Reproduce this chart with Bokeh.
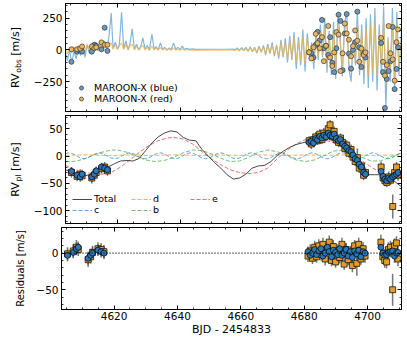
import math
from bokeh.plotting import figure
from bokeh.layouts import column, row
from bokeh.models import (Range1d, LinearAxis, SingleIntervalTicker, Label, Legend,
                          LegendItem, CustomJSTickFormatter, Span)
from bokeh.embed import file_html
from bokeh.resources import INLINE

# ---------------- data ----------------
X_MIN, X_MAX = 4603.4, 4710.7

t_left = [4605.3, 4607.1, 4608.1, 4608.7, 4611.8, 4612.6, 4613.2, 4614.9, 4615.9, 4616.8]
t_right1 = [4681.2, 4681.9, 4682.6, 4683.3, 4683.9, 4684.6, 4685.3, 4685.9, 4686.6, 4687.3,
            4687.9, 4688.6, 4689.2, 4689.9, 4690.6, 4691.2, 4691.9, 4692.6, 4693.2, 4693.9,
            4694.6, 4695.2, 4695.9, 4696.6, 4697.2, 4697.9, 4698.6, 4699.2]
t_right2 = [4704.2, 4704.8, 4705.4, 4706.0, 4706.6, 4707.2, 4707.9, 4708.5, 4709.1, 4709.6]

# observed RVs (top panel)
rv_blue_obs = ([-94, -14, -6, -14, -14, 40, 32, 5, 175, -8] +
               [-19, -25, -60, 40, 142, 75, 236, 13, 32, -40, 100, -102, -175, 13, 277, 228,
                -160, 129, 282, -30, -148, 0, 60, 301, 20, -135, -32, -60] +
               [54, -175, -457, -229, -167, -89, 180, -309, -150, 20])
rv_red_obs = ([5, 5, 10, 27, 27, 13, 20, 59, 40, 40] +
              [-19, -67, 20, 126, 53, 13, 100, -89, 32, 188, -60, -127, -20, 140, 120, -167,
               -27, 207, 129, 80, -50, 30, 153, 72, -94, 10, -40, -20] +
              [94, -94, -202, -120, 188, -27, -75, -242, 60, 161])

# planetary RVs (middle panel)
rvpl_blue = ([-28, -35, -38, -33, -38, -33, -27, -20, -22, -25] +
             [25, 27, 24, 32, 30, 36, 33, 38, 35, 42, 38, 36, 40, 32, 28, 30, 22, 18, 15, 10,
              8, 2, -5, -8, -15, -20, -30, -33] +
             [-28, -37, -42, -45, -40, -42, -38, -35, -33, -30])
rvpl_red = ([-30, -37, -34, -36, -40, -35, -30, -23, -20, -27] +
            [28, 22, 30, 35, 28, 40, 30, 42, 38, 50, 57, 35, 45, 30, 25, 33, 25, 14, 20, 5,
             12, -2, -10, -3, -22, -18, -35, -30] +
            [-20, -40, -45, -48, -38, -44, -92, -30, -20, -35])

# residuals (bottom panel)
res_blue = ([-3, 1, 6, 8, -7, -3, 0, 4, 2, 0] +
            [2, -3, 0, 5, -2, 3, 6, -4, 0, 8, 2, -5, 4, 1, -2, 6, -3, 0, 5, -4, 2, -6, 3, -1,
             4, -5, 2, 0] +
            [8, 0, -3, -2, 1, 2, 3, -4, 0, 1])
res_red = ([-1, 3, 8, 5, -9, -5, 1, 6, 5, 2] +
           [-4, 3, -7, 8, -5, 10, -2, 12, -8, 6, 15, -10, 9, -12, 3, -6, 12, -15, 5, -9, 0,
            -17, 10, -14, 12, -8, 6, -4] +
           [15, -5, -10, -12, 5, 8, -50, 10, 14, -8])

err_blue = ([8, 8, 9, 8, 9, 9, 8, 8, 8, 8] +
            [7, 8, 7, 8, 7, 8, 7, 8, 8, 7, 8, 7, 8, 7, 8, 7, 8, 7, 8, 7, 8, 8, 7, 8, 8, 7, 8, 8] +
            [9, 8, 9, 8, 9, 8, 9, 9, 8, 9])
err_red = ([9, 9, 10, 9, 10, 9, 9, 9, 9, 9] +
           [8, 9, 8, 9, 8, 9, 8, 9, 9, 8, 9, 8, 9, 8, 9, 8, 9, 8, 9, 8, 9, 9, 8, 17, 9, 8, 9, 9] +
           [10, 9, 10, 9, 10, 9, 22, 10, 9, 10])

# high-cadence RV models (top panel)
model_t = ([4603.4, 4604.0, 4604.7, 4605.4, 4606.1, 4606.8, 4607.5, 4608.2, 4608.9, 4609.6,
            4610.3, 4611.0, 4611.7, 4612.4, 4613.1, 4613.8, 4614.5, 4615.2, 4615.9, 4616.6,
            4617.3] +
           [4618.0, 4618.6, 4619.3, 4620.0, 4620.6, 4621.3, 4622.0, 4622.7, 4623.4, 4624.0,
            4624.7, 4625.4, 4626.1, 4626.8, 4627.5, 4628.1, 4628.8, 4629.5, 4630.2, 4631.0,
            4631.7, 4632.4, 4633.0, 4633.7, 4634.4, 4635.1, 4635.8, 4636.5, 4637.2, 4637.9,
            4638.6, 4639.3, 4640.0, 4640.7, 4641.4, 4642.1, 4643.0, 4644.0, 4645.0, 4650.0,
            4655.0, 4657.0] +
           [4657.5, 4658.2, 4658.9, 4659.6, 4660.3, 4661.0, 4661.7, 4662.4, 4663.1, 4663.8,
            4664.5, 4665.2, 4665.9, 4666.6, 4667.3, 4668.0, 4668.7, 4669.4, 4670.1, 4670.8,
            4671.5, 4672.2, 4672.9, 4673.6, 4674.3, 4675.0, 4675.7, 4676.4, 4677.1, 4677.8,
            4678.5, 4679.2, 4679.9, 4680.6, 4681.3, 4682.0, 4682.7, 4683.4, 4684.1, 4684.8,
            4685.5, 4686.2, 4686.9, 4687.6, 4688.3, 4689.0, 4689.7, 4690.4, 4691.1, 4691.8,
            4692.5, 4693.2, 4693.9, 4694.6, 4695.3, 4696.0, 4696.6, 4697.3, 4698.0, 4698.7,
            4699.4, 4700.1, 4700.8, 4701.5, 4702.2, 4702.9, 4703.6, 4704.3, 4705.0, 4705.7,
            4706.4, 4707.1, 4707.8, 4708.5, 4709.2, 4709.9, 4710.7])
model_blue = ([-20, -85, 0, -105, -10, -70, 20, -45, 35, -60, 40, -25, 45, -15, 60, -10, 40, 0,
               70, -5, 110] +
              [290, 10, 60, 5, 40, 296, 10, 70, 0, 50, 165, 5, 45, 0, 30, 95, 5, 35, 0, 125,
               5, 25, 0, 55, 5, 20, 0, 15, 2, 55, 5, 20, 3, 30, 3, 12, 4, 8, 4, 5, 5, 6] +
              [0, 15, -5, 18, -2, 20, -10, 25, -15, 20, -25, 30, -20, 35, -40, 45, -30, 60, -50,
               40, -70, 80, -60, 90, -100, 110, -80, 140, -150, 100, -120, 160, -170, 130, -60,
               60, -150, 150, -80, 200, -60, 250, -180, 150, -200, 220, -230, 290, 100, -210,
               200, 300, -150, -250, 80, -120, 310, -200, 200, -270, 250, -300, 280, -250, 330,
               -320, 200, -200, 340, -460, 100, -250, 330, -330, 300, -200, 150])
model_red = ([10, -30, 20, -25, 25, -10, 35, -5, 40, -15, 45, 0, 50, 5, 55, 5, 45, 10, 60, 10,
              50] +
             [55, 5, 40, 5, 30, 55, 5, 40, 0, 30, 45, 0, 30, -2, 20, 35, 0, 20, -3, 30, 0, 15,
              -3, 20, -2, 10, -3, 8, -2, 15, -2, 6, -3, 8, -3, 3, -3, 0, -3, -3, -3, -3] +
             [-5, 5, -10, 8, -8, 10, -12, 15, -15, 12, -20, 20, -18, 25, -28, 30, -25, 40, -35,
              30, -50, 55, -45, 60, -70, 75, -60, 95, -100, 70, -85, 110, -115, 90, -40, 40,
              -100, 110, -55, 140, -45, 170, -120, 110, -135, 160, -150, 200, 70, -140, 140,
              210, -100, -170, 60, -80, 210, -130, 140, -180, 170, -200, 190, -170, 220, -210,
              140, -130, 230, -280, 70, -170, 220, -220, 200, -130, 100])

# planet model curves (middle panel)
tot_t = [4603.4, 4605, 4607, 4609, 4611, 4613, 4615, 4617, 4619, 4621, 4623, 4625, 4627, 4629,
         4631, 4633, 4635, 4637, 4639, 4641, 4643, 4645, 4647, 4649, 4651, 4653, 4655, 4657,
         4659, 4661, 4663, 4665, 4667, 4669, 4671, 4673, 4675, 4677, 4679, 4681, 4683, 4685,
         4687, 4689, 4691, 4693, 4695, 4697, 4698.5, 4700, 4702, 4704, 4706, 4708, 4710.7]
tot_v = [-25, -28, -35, -37, -34, -28, -22, -20, -14, -9, -8, -9, -4, 10, 24, 35, 42, 46, 44,
         34, 29, 28, 12, 0, -12, -22, -34, -42, -40, -33, -22, -18, -17, -10, 1, 9, 16, 21, 24,
         27, 31, 35, 38, 36, 28, 16, 3, -14, -31, -34, -34, -34, -38, -44, -56]

e_t = [4603.4, 4606, 4609, 4612, 4615, 4618, 4621, 4624, 4627, 4630, 4633, 4636, 4638, 4641,
       4644, 4647, 4650, 4653, 4656, 4659, 4662, 4665, 4668, 4671, 4674, 4677, 4680, 4683,
       4686, 4689, 4692, 4695, 4698, 4701, 4704, 4707, 4710.7]
e_v = [-17, -24, -29, -32, -33, -30, -20, -7, 7, 19, 28, 33, 34, 31, 22, 8, -5, -16, -25, -30,
       -32, -30, -22, -5, 10, 22, 30, 32, 30, 24, 15, 4, -8, -20, -30, -37, -42]

b_t = [4603.4, 4606, 4609, 4612, 4615, 4618, 4620, 4623, 4626, 4629, 4632, 4635, 4638, 4641,
       4644, 4647, 4650, 4653, 4656, 4659, 4662, 4665, 4668, 4671, 4674, 4677, 4680, 4683,
       4686, 4689, 4692, 4695, 4698, 4701, 4704, 4707, 4710.7]
b_v = [-10, -10, -6, 1, 7, 11, 11, 7, 0, -7, -10, -8, -2, 6, 11, 10, 4, -4, -10, -9, -2, 7,
       11, 8, 1, -7, -10, -7, 1, 9, 11, 6, -2, -9, -9, -2, 6]

c_t = [4603.4, 4604.5, 4605.7, 4606.9, 4608.1, 4609.4, 4610.6, 4611.8, 4613.0, 4614.2, 4615.4,
       4616.6, 4617.8, 4619.1, 4620.3, 4621.5, 4622.7, 4623.9, 4625.1, 4626.3, 4627.5, 4628.8,
       4630.0, 4631.2, 4632.4, 4633.6, 4634.8, 4636.0, 4637.2, 4638.5, 4639.7, 4640.9, 4642.1,
       4643.3, 4644.5, 4645.7, 4646.9, 4648.2, 4649.4, 4650.6, 4651.8, 4653.0, 4654.2, 4655.4,
       4656.6, 4657.9, 4659.1, 4660.3, 4661.5, 4662.7, 4663.9, 4665.1, 4666.3, 4667.6, 4668.8,
       4670.0, 4671.2, 4672.4, 4673.6, 4674.8, 4676.0, 4677.3, 4678.5, 4679.7, 4680.9, 4682.1,
       4683.3, 4684.5, 4685.7, 4687.0, 4688.2, 4689.4, 4690.6, 4691.8, 4693.0, 4694.2, 4695.4,
       4696.7, 4697.9, 4699.1, 4700.3, 4701.5, 4702.7, 4703.9, 4705.1, 4706.4, 4707.6, 4708.8,
       4710.0, 4710.7]
c_v = [4.3, 6, 4.3, 0.5, -3.3, -5, -3.3, 0.5, 4.3, 6, 4.3, 0.5, -3.3, -5, -3.3, 0.5, 4.3, 6,
       4.3, 0.5, -3.3, -5, -3.3, 0.5, 4.3, 6, 4.3, 0.5, -3.3, -5, -3.3, 0.5, 4.3, 6, 4.3, 0.5,
       -3.3, -5, -3.3, 0.5, 4.3, 6, 4.3, 0.5, -3.3, -5, -3.3, 0.5, 4.3, 6, 4.3, 0.5, -3.3, -5,
       -3.3, 0.5, 4.3, 6, 4.3, 0.5, -3.3, -5, -3.3, 0.5, 4.3, 6, 4.3, 0.5, -3.3, -5, -3.3, 0.5,
       4.3, 6, 4.3, 0.5, -3.3, -5, -3.3, 0.5, 4.3, 6, 4.3, 0.5, -3.3, -5, -3.3, 0.5, 4.3, 5.5]

d_t = [4603.4, 4610, 4617, 4624, 4631, 4638, 4645, 4652, 4659, 4666, 4673, 4680, 4687, 4694,
       4701, 4708, 4710.7]
d_v = [1.5, 2.2, 1.0, 2.0, 1.2, 2.2, 1.0, 2.0, 1.2, 2.2, 1.0, 2.0, 1.2, 2.2, 1.0, 2.0, 1.6]

# ---------------- styling helpers ----------------
FONT = "DejaVu Sans"
xr = Range1d(X_MIN, X_MAX)
LAB_W = 30            # width of the strip holding the rotated y titles
MAIN_W = 375          # main figure width (frame 61 -> 401 on the page)
BL = 61 - LAB_W
minus_fmt = "return (tick < 0 ? '\\u2212' : '') + Math.abs(tick).toString();"


def base_fig(height, y0, y1, mbt, mbb):
    p = figure(width=MAIN_W, height=height, x_range=xr, y_range=Range1d(y0, y1),
               output_backend="svg", toolbar_location=None,
               x_axis_type=None, y_axis_type=None,
               min_border_left=BL, min_border_right=MAIN_W - BL - 340,
               min_border_top=mbt, min_border_bottom=mbb)
    p.outline_line_color = "black"
    p.outline_line_width = 1
    p.background_fill_color = "white"
    p.border_fill_color = "white"
    return p


def label_fig(height):
    q = figure(width=LAB_W, height=height, x_range=Range1d(0, 1), y_range=Range1d(0, 1),
               output_backend="svg", toolbar_location=None,
               x_axis_type=None, y_axis_type=None,
               min_border_left=0, min_border_right=0, min_border_top=0, min_border_bottom=0)
    q.outline_line_color = None
    q.background_fill_color = "white"
    q.border_fill_color = "white"
    return q


def style_axis(ax, labels):
    ax.axis_line_color = "black"
    ax.axis_line_width = 1
    ax.major_tick_in = 4
    ax.major_tick_out = 0
    ax.minor_tick_in = 2
    ax.minor_tick_out = 0
    ax.major_tick_line_color = "black"
    ax.minor_tick_line_color = "black"
    ax.major_tick_line_width = 1
    ax.minor_tick_line_width = 0.8
    if labels:
        ax.major_label_text_font = FONT
        ax.major_label_text_font_size = "10.5px"
        ax.major_label_text_color = "black"
        ax.major_label_standoff = 3
        ax.formatter = CustomJSTickFormatter(code=minus_fmt)
    else:
        ax.major_label_text_font_size = "0px"
        ax.major_label_standoff = 0
        ax.major_label_text_alpha = 0


def add_axes(p, yint, yminor, xlabels=False, xtitle=None):
    for side in ("below", "above"):
        ax = LinearAxis(ticker=SingleIntervalTicker(interval=20, num_minor_ticks=4))
        style_axis(ax, side == "below" and xlabels)
        if side == "below" and xtitle:
            ax.major_label_standoff = 2
            ax.axis_label = xtitle
            ax.axis_label_text_font = FONT
            ax.axis_label_text_font_size = "11px"
            ax.axis_label_text_font_style = "normal"
            ax.axis_label_text_color = "black"
            ax.axis_label_standoff = 0
        p.add_layout(ax, side)
    for side in ("left", "right"):
        ax = LinearAxis(ticker=SingleIntervalTicker(interval=yint, num_minor_ticks=yminor))
        style_axis(ax, side == "left")
        p.add_layout(ax, side)


def add_rv_title(q, center_y, sub, sub_w, x=15):
    # positions are measured from the bottom of the (frame-aligned) strip
    main_w = 15.2
    total = main_w + sub_w + 3.5 + 28.7
    y0 = center_y - total / 2
    common = dict(x_units="screen", y_units="screen", angle=math.pi / 2, text_font=FONT,
                  text_align="left", text_baseline="middle", text_color="black")
    q.add_layout(Label(x=x, y=y0, text="RV", text_font_size="11px", **common))
    q.add_layout(Label(x=x + 3, y=y0 + main_w, text=sub, text_font_size="7.7px", **common))
    q.add_layout(Label(x=x, y=y0 + main_w + sub_w + 3.5, text="[m/s]",
                       text_font_size="11px", **common))


# panel geometry (page: frames at y 3-111, 115-223, 227-309)
H1, T1, B1 = 113, 3, 2
H2, T2, B2 = 112, 2, 2
H3, T3, B3 = 113, 2, 29
F1, F2, F3 = H1 - T1 - B1, H2 - T2 - B2, H3 - T3 - B3

# ---------------- top panel ----------------
p1 = base_fig(H1, -485, 365, T1, B1)
add_axes(p1, 250, 5)
p1.line(model_t, model_blue, line_color="#5a9fd4", line_alpha=0.75, line_width=1.2)
p1.line(model_t, model_red, line_color="#f2b642", line_alpha=0.75, line_width=1.2)
t_obs = t_left + t_right1 + t_right2
r_b = p1.scatter(t_obs, rv_blue_obs, marker="circle", size=5, fill_color="#6b98bf",
                 line_color="#333333", line_width=0.7)
r_r = p1.scatter(t_obs, rv_red_obs, marker="circle", size=5, fill_color="#eab561",
                 line_color="#333333", line_width=0.7)
leg1 = Legend(items=[LegendItem(label="MAROON-X (blue)", renderers=[r_b]),
                     LegendItem(label="MAROON-X (red)", renderers=[r_r])],
              location=(11, 7), orientation="vertical",
              label_text_font=FONT, label_text_font_size="9.5px", label_text_color="black",
              glyph_width=10, glyph_height=11, label_height=11, label_standoff=8,
              padding=0, margin=0, spacing=0,
              background_fill_alpha=0, border_line_alpha=0)
p1.add_layout(leg1)
q1 = label_fig(H1)
add_rv_title(q1, F1 / 2, "obs", 13.6)

# ---------------- middle panel ----------------
p2 = base_fig(H2, -123, 74, T2, B2)
add_axes(p2, 50, 5)
rc = p2.line(c_t, c_v, line_color="#1f77b4", line_alpha=0.65, line_width=1, line_dash="4 2")
rd = p2.line(d_t, d_v, line_color="#ff7f0e", line_alpha=0.65, line_width=1, line_dash="4 2")
rbb = p2.line(b_t, b_v, line_color="#2ca02c", line_alpha=0.65, line_width=1, line_dash="4 2")
re = p2.line(e_t, e_v, line_color="#d62728", line_alpha=0.65, line_width=1, line_dash="4 2")
rt = p2.line(tot_t, tot_v, line_color="#333333", line_alpha=0.9, line_width=1)
lo_r = [v - e for v, e in zip(rvpl_red, err_red)]
hi_r = [v + e for v, e in zip(rvpl_red, err_red)]
lo_b = [v - e for v, e in zip(rvpl_blue, err_blue)]
hi_b = [v + e for v, e in zip(rvpl_blue, err_blue)]
p2.segment(t_obs, lo_r, t_obs, hi_r, line_color="#555555", line_width=1.5, line_alpha=0.8)
p2.segment(t_obs, lo_b, t_obs, hi_b, line_color="#555555", line_width=1.5, line_alpha=0.8)
p2.scatter(t_obs, rvpl_red, marker="square", size=6, fill_color="#e39b2a",
           line_color="black", line_width=0.7)
p2.scatter(t_obs, rvpl_blue, marker="circle", size=6, fill_color="#2a78b5",
           line_color="black", line_width=0.7)
leg2 = Legend(items=[LegendItem(label="Total", renderers=[rt]),
                     LegendItem(label="c", renderers=[rc]),
                     LegendItem(label="d", renderers=[rd]),
                     LegendItem(label="b", renderers=[rbb]),
                     LegendItem(label="e", renderers=[re])],
              location=(7, 8), orientation="vertical", ncols=3,
              label_text_font=FONT, label_text_font_size="9.5px", label_text_color="black",
              glyph_width=20, glyph_height=8, label_height=8, label_width=37,
              label_standoff=2, padding=0, margin=0, spacing=0,
              background_fill_alpha=0, border_line_alpha=0)
p2.add_layout(leg2)
q2 = label_fig(H2)
add_rv_title(q2, F2 / 2, "pl", 7.0)

# ---------------- residual panel ----------------
p3 = base_fig(H3, -77, 35, T3, B3)
add_axes(p3, 50, 5, xlabels=True, xtitle="BJD - 2454833")
p3.add_layout(Span(location=0, dimension="width", line_color="black", line_width=1.4,
                   line_dash="1 2"))
rlo_r = [v - e for v, e in zip(res_red, err_red)]
rhi_r = [v + e for v, e in zip(res_red, err_red)]
rlo_b = [v - e for v, e in zip(res_blue, err_blue)]
rhi_b = [v + e for v, e in zip(res_blue, err_blue)]
p3.segment(t_obs, rlo_r, t_obs, rhi_r, line_color="#555555", line_width=1.5, line_alpha=0.8)
p3.segment(t_obs, rlo_b, t_obs, rhi_b, line_color="#555555", line_width=1.5, line_alpha=0.8)
p3.scatter(t_obs, res_red, marker="square", size=6, fill_color="#e39b2a",
           line_color="black", line_width=0.7)
p3.scatter(t_obs, res_blue, marker="circle", size=6, fill_color="#2a78b5",
           line_color="black", line_width=0.7)
q3 = label_fig(H3)
q3.add_layout(Label(x=20, y=F3 / 2, x_units="screen", y_units="screen",
                    text="Residuals [m/s]", angle=math.pi / 2, text_font=FONT,
                    text_font_size="10px", text_align="center", text_baseline="middle",
                    text_color="black"))

layout = column(row(q1, p1, spacing=0), row(q2, p2, spacing=0), row(q3, p3, spacing=0),
                spacing=0)
with open("out.html", "w", encoding="utf-8") as f:
    f.write(file_html(layout, INLINE))
